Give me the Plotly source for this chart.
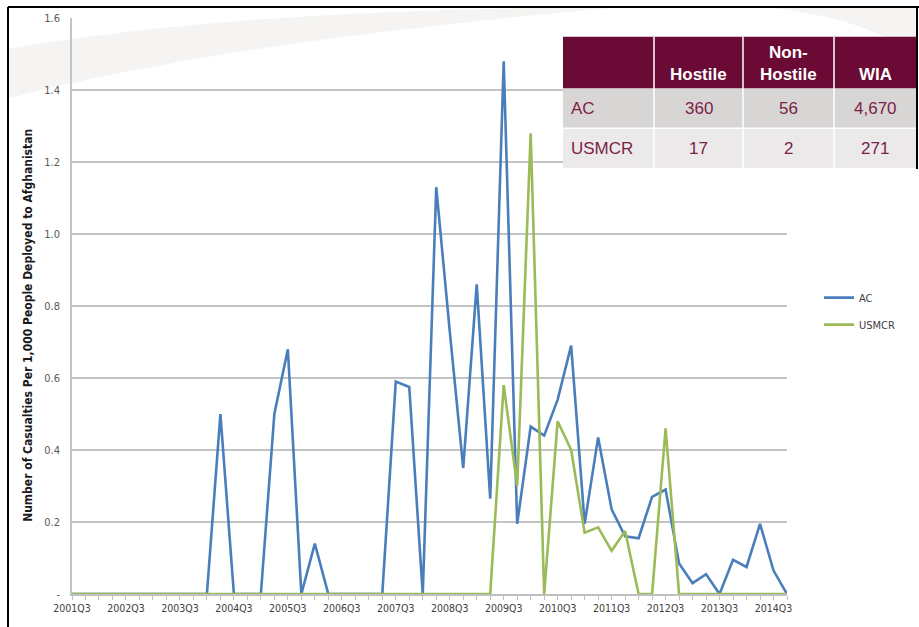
import plotly.graph_objects as go

# ---------------- data ----------------
QUARTERS = [
    "2001Q3", "2001Q4", "2002Q1", "2002Q2", "2002Q3", "2002Q4", "2003Q1", "2003Q2",
    "2003Q3", "2003Q4", "2004Q1", "2004Q2", "2004Q3", "2004Q4", "2005Q1", "2005Q2",
    "2005Q3", "2005Q4", "2006Q1", "2006Q2", "2006Q3", "2006Q4", "2007Q1", "2007Q2",
    "2007Q3", "2007Q4", "2008Q1", "2008Q2", "2008Q3", "2008Q4", "2009Q1", "2009Q2",
    "2009Q3", "2009Q4", "2010Q1", "2010Q2", "2010Q3", "2010Q4", "2011Q1", "2011Q2",
    "2011Q3", "2011Q4", "2012Q1", "2012Q2", "2012Q3", "2012Q4", "2013Q1", "2013Q2",
    "2013Q3", "2013Q4", "2014Q1", "2014Q2", "2014Q3", "2014Q4",
]

AC = [
    0, 0, 0, 0, 0, 0, 0, 0,
    0, 0, 0, 0.50, 0, 0, 0, 0.50,
    0.68, 0, 0.14, 0, 0, 0, 0, 0,
    0.59, 0.575, 0, 1.13, 0.73, 0.35, 0.86, 0.265,
    1.48, 0.195, 0.465, 0.44, 0.54, 0.69, 0.195, 0.435,
    0.235, 0.16, 0.155, 0.27, 0.29, 0.085, 0.03, 0.055,
    0, 0.095, 0.075, 0.195, 0.065, 0,
]

USMCR = [
    0, 0, 0, 0, 0, 0, 0, 0,
    0, 0, 0, 0, 0, 0, 0, 0,
    0, 0, 0, 0, 0, 0, 0, 0,
    0, 0, 0, 0, 0, 0, 0, 0,
    0.58, 0.30, 1.28, 0, 0.48, 0.40, 0.17, 0.185,
    0.12, 0.175, 0, 0, 0.46, 0, 0, 0,
    0, 0, 0, 0, 0, 0,
]

X_TICK_LABELS = ["2001Q3", "2002Q3", "2003Q3", "2004Q3", "2005Q3", "2006Q3", "2007Q3",
                 "2008Q3", "2009Q3", "2010Q3", "2011Q3", "2012Q3", "2013Q3", "2014Q3"]
Y_TICK_VALUES = [0, 0.2, 0.4, 0.6, 0.8, 1.0, 1.2, 1.4, 1.6]
Y_TICK_LABELS = ["-", "0.2", "0.4", "0.6", "0.8", "1.0", "1.2", "1.4", "1.6"]

TABLE_HEADER = ["", "Hostile", "Non-<br>Hostile", "WIA"]
TABLE_ROWS = [
    ["AC", "360", "56", "4,670"],
    ["USMCR", "17", "2", "271"],
]

Y_TITLE = "Number of Casualties Per 1,000 People Deployed to Afghanistan"

# ---------------- layout geometry (pixels) ----------------
W, H = 919, 627
L, R, T, B = 72, 787, 14, 594


def px(x):
    return (x - L) / (R - L)


def py(y):
    return (B - y) / (B - T)


NARROW = "Liberation Sans Narrow, Arial Narrow, DejaVu Sans Condensed, sans-serif"
SANS = "Liberation Sans, Arial, sans-serif"

fig = go.Figure()
fig.add_trace(go.Scatter(
    x=QUARTERS, y=AC, mode="lines", name="AC",
    line=dict(color="#4a7ebb", width=2.6), legendgroup="a",
))
fig.add_trace(go.Scatter(
    x=QUARTERS, y=USMCR, mode="lines", name="USMCR",
    line=dict(color="#9bbb59", width=2.6), legendgroup="b",
))

tick_text = [q if q in X_TICK_LABELS else "" for q in QUARTERS]

fig.update_xaxes(
    type="category", range=[0, len(QUARTERS) - 1],
    tickmode="array", tickvals=QUARTERS, ticktext=tick_text,
    ticks="outside", ticklen=4, tickcolor="#bfbfbf", tickwidth=1,
    showgrid=False, showline=True, linecolor="#bfbfbf", linewidth=1.5,
    tickfont=dict(family=NARROW, size=10.5, color="#404040"),
    tickangle=0, zeroline=False,
)
fig.update_yaxes(
    range=[0, 1.6], tickmode="array", tickvals=Y_TICK_VALUES, ticktext=Y_TICK_LABELS,
    showgrid=True, gridcolor="#c4c4c4", gridwidth=1.5,
    showline=True, linecolor="#c4c4c4", linewidth=1.5,
    tickfont=dict(family=NARROW, size=11, color="#595959"),
    ticklabelstandoff=8, zeroline=False,
)

shapes = []
# decorative faint swoosh background (top-left and top-right)
shapes.append(dict(
    type="path", xref="paper", yref="paper", layer="below",
    path=(f"M {px(8)},{py(45)} C {px(200)},{py(12)} {px(420)},{py(4)} {px(620)},{py(3)} "
          f"C {px(420)},{py(22)} {px(200)},{py(45)} {px(8)},{py(95)} Z"),
    fillcolor="#f5f4f2", line=dict(width=0),
))
shapes.append(dict(
    type="path", xref="paper", yref="paper", layer="below",
    path=(f"M {px(760)},{py(3)} L {px(917)},{py(3)} L {px(917)},{py(55)} "
          f"C {px(880)},{py(22)} {px(820)},{py(8)} {px(760)},{py(3)} Z"),
    fillcolor="#f5f4f2", line=dict(width=0),
))

# table
cols = [563, 654, 743, 834, 916]
rows = [33, 85, 125, 165]
row_fill = ["#6b0b35", "#d8d5d5", "#ebe9e9"]
for r in range(3):
    shapes.append(dict(
        type="rect", xref="paper", yref="paper",
        x0=px(cols[0]), x1=px(cols[-1]), y0=py(rows[r + 1]), y1=py(rows[r]),
        fillcolor=row_fill[r], line=dict(width=0), layer="above",
    ))
for c in cols[1:-1]:
    shapes.append(dict(
        type="line", xref="paper", yref="paper",
        x0=px(c), x1=px(c), y0=py(rows[-1]), y1=py(rows[0]),
        line=dict(color="#ffffff", width=1.5), layer="above",
    ))
shapes.append(dict(
    type="line", xref="paper", yref="paper",
    x0=px(cols[0]), x1=px(cols[-1]), y0=py(rows[2]), y1=py(rows[2]),
    line=dict(color="#ffffff", width=1.5), layer="above",
))

# frame
shapes.append(dict(type="line", xref="paper", yref="paper",
                   x0=px(8), x1=px(8), y0=py(3), y1=py(630),
                   line=dict(color="#000000", width=2)))
shapes.append(dict(type="line", xref="paper", yref="paper",
                   x0=px(8), x1=px(919), y0=py(3), y1=py(3),
                   line=dict(color="#000000", width=2)))
shapes.append(dict(type="line", xref="paper", yref="paper",
                   x0=px(917), x1=px(917), y0=py(3), y1=py(166),
                   line=dict(color="#000000", width=2)))

annotations = []
# header
for i, txt in enumerate(TABLE_HEADER):
    if not txt:
        continue
    cx = (cols[i] + cols[i + 1]) / 2
    annotations.append(dict(
        text=f"<b>{txt}</b>", xref="paper", yref="paper",
        x=px(cx), y=py(82), xanchor="center", yanchor="bottom",
        showarrow=False, align="center",
        font=dict(family=SANS, size=17, color="#ffffff"),
    ))
for r, row in enumerate(TABLE_ROWS):
    cy = (rows[r + 1] + rows[r + 2]) / 2
    for i, txt in enumerate(row):
        if i == 0:
            annotations.append(dict(
                text=txt, xref="paper", yref="paper",
                x=px(cols[0] + 6), y=py(cy), xanchor="left", yanchor="middle",
                showarrow=False, font=dict(family=SANS, size=17, color="#7b1e48"),
            ))
        else:
            cx = (cols[i] + cols[i + 1]) / 2
            annotations.append(dict(
                text=txt, xref="paper", yref="paper",
                x=px(cx), y=py(cy), xanchor="center", yanchor="middle",
                showarrow=False, font=dict(family=SANS, size=17, color="#7b1e48"),
            ))

# y axis title
annotations.append(dict(
    text=f"<b>{Y_TITLE}</b>", xref="paper", yref="paper",
    x=px(28), y=py(324), xanchor="center", yanchor="middle", textangle=-90,
    showarrow=False, font=dict(family=NARROW, size=12, color="#1a1a1a"),
))

fig.update_layout(
    width=W, height=H, autosize=False,
    margin=dict(l=L, r=W - R, t=T, b=H - B, pad=0),
    paper_bgcolor="#ffffff", plot_bgcolor="rgba(0,0,0,0)",
    showlegend=True,
    legend=dict(
        x=px(819), y=py(281), xanchor="left", yanchor="top",
        font=dict(family=NARROW, size=11, color="#404040"),
        bgcolor="rgba(0,0,0,0)", tracegroupgap=8, traceorder="grouped",
    ),
    shapes=shapes, annotations=annotations,
)

fig.write_html(
    "out.html",
    config={"displayModeBar": False},
    post_script="document.body.style.margin='0px'; document.body.style.overflow='hidden';",
)
